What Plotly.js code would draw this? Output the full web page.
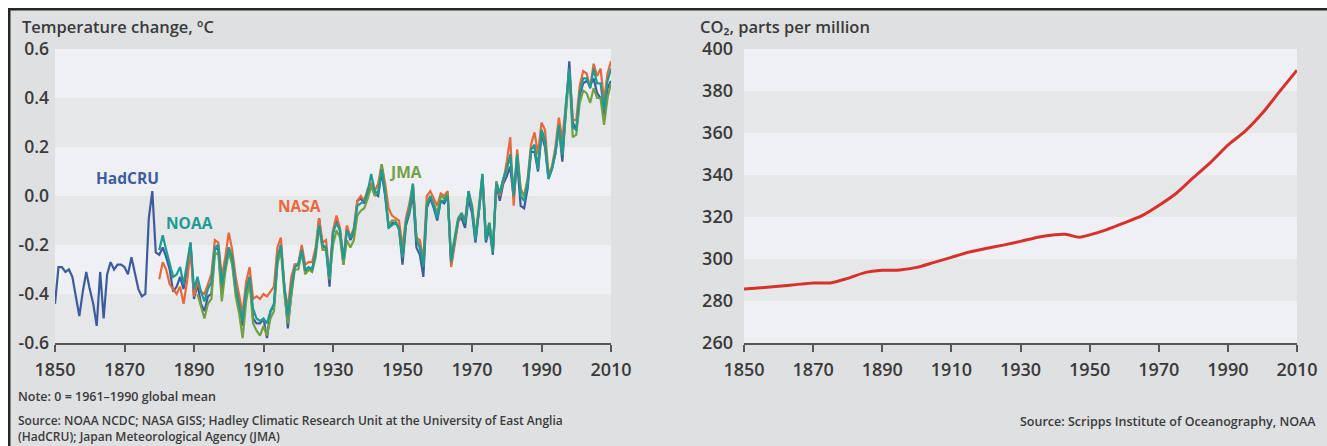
<!DOCTYPE html>
<html>
<head>
<meta charset="utf-8">
<script src="https://cdn.plot.ly/plotly-3.0.1.min.js"></script>
<style>html,body{margin:0;padding:0;background:#fff;}#chart{width:1327px;height:446px;}</style>
</head>
<body>
<div id="chart"></div>
<script>
// ---------------- DATA ----------------
const hadcruStart = 1850;
const hadcruValues = [
-0.44,-0.29,-0.29,-0.31,-0.30,-0.33,-0.41,-0.49,-0.39,-0.31,
-0.38,-0.44,-0.53,-0.31,-0.50,-0.32,-0.27,-0.30,-0.28,-0.28,
-0.29,-0.32,-0.25,-0.31,-0.38,-0.41,-0.40,-0.09,0.02,-0.23,
-0.24,-0.21,-0.25,-0.30,-0.39,-0.37,-0.33,-0.38,-0.30,-0.19,
-0.42,-0.36,-0.44,-0.47,-0.41,-0.40,-0.21,-0.22,-0.40,-0.29,
-0.21,-0.27,-0.39,-0.46,-0.53,-0.40,-0.33,-0.50,-0.52,-0.52,
-0.50,-0.58,-0.47,-0.45,-0.27,-0.20,-0.39,-0.54,-0.40,-0.28,
-0.28,-0.21,-0.31,-0.30,-0.30,-0.23,-0.09,-0.21,-0.21,-0.37,
-0.15,-0.10,-0.14,-0.28,-0.13,-0.18,-0.15,-0.02,-0.01,-0.03,
0.01,0.05,0.01,0.00,0.10,0.00,-0.13,-0.11,-0.11,-0.13,
-0.28,-0.12,-0.07,0.01,-0.21,-0.24,-0.33,-0.05,-0.01,-0.05,
-0.10,-0.02,-0.03,0.00,-0.28,-0.19,-0.10,-0.09,-0.13,-0.01,
-0.07,-0.19,-0.06,0.07,-0.19,-0.13,-0.24,0.05,-0.02,0.05,
0.08,0.12,-0.01,0.14,-0.04,-0.05,0.03,0.18,0.18,0.10,
0.25,0.20,0.07,0.11,0.17,0.28,0.14,0.35,0.55,0.30,
0.27,0.41,0.46,0.47,0.45,0.48,0.42,0.40,0.33,0.44,
0.47];

const noaaStart = 1880;
const noaaValues = [
-0.22,-0.16,-0.22,-0.28,-0.33,-0.32,-0.29,-0.36,-0.28,-0.19,
-0.38,-0.33,-0.39,-0.43,-0.38,-0.35,-0.21,-0.20,-0.36,-0.28,
-0.21,-0.25,-0.37,-0.44,-0.51,-0.38,-0.33,-0.46,-0.50,-0.51,
-0.50,-0.52,-0.47,-0.44,-0.25,-0.20,-0.37,-0.49,-0.37,-0.29,
-0.28,-0.22,-0.30,-0.29,-0.30,-0.23,-0.12,-0.20,-0.21,-0.33,
-0.15,-0.11,-0.14,-0.26,-0.14,-0.17,-0.14,-0.04,-0.03,-0.02,
0.02,0.09,0.02,0.01,0.11,0.01,-0.13,-0.12,-0.11,-0.13,
-0.25,-0.11,-0.05,0.05,-0.18,-0.21,-0.29,-0.04,0.00,-0.04,
-0.09,-0.02,-0.02,0.00,-0.27,-0.18,-0.10,-0.07,-0.11,0.02,
-0.05,-0.18,-0.06,0.09,-0.18,-0.11,-0.23,0.05,0.01,0.07,
0.11,0.17,0.00,0.17,0.00,-0.02,0.05,0.19,0.21,0.11,
0.27,0.23,0.07,0.11,0.18,0.29,0.17,0.37,0.52,0.28,
0.27,0.42,0.48,0.48,0.44,0.52,0.46,0.46,0.35,0.47,
0.52];

const nasaStart = 1880;
const nasaValues = [
-0.34,-0.27,-0.30,-0.36,-0.38,-0.40,-0.37,-0.44,-0.35,-0.22,
-0.41,-0.35,-0.39,-0.40,-0.36,-0.32,-0.18,-0.19,-0.33,-0.25,
-0.15,-0.22,-0.33,-0.41,-0.48,-0.35,-0.29,-0.42,-0.41,-0.42,
-0.40,-0.41,-0.39,-0.37,-0.21,-0.17,-0.37,-0.46,-0.33,-0.28,
-0.28,-0.20,-0.28,-0.27,-0.27,-0.21,-0.09,-0.19,-0.18,-0.33,
-0.14,-0.08,-0.13,-0.26,-0.12,-0.17,-0.13,-0.02,0.00,-0.02,
0.03,0.05,0.02,0.05,0.13,0.05,-0.05,-0.08,-0.09,-0.10,
-0.21,-0.09,-0.03,0.05,-0.17,-0.18,-0.26,0.00,0.02,-0.01,
-0.04,0.01,0.00,0.02,-0.29,-0.20,-0.11,-0.07,-0.10,0.01,
-0.04,-0.16,-0.06,0.08,-0.16,-0.11,-0.22,0.06,0.00,0.06,
0.14,0.24,-0.04,0.19,0.03,0.00,0.07,0.21,0.26,0.17,
0.30,0.27,0.09,0.12,0.20,0.32,0.23,0.37,0.51,0.31,
0.31,0.45,0.51,0.50,0.44,0.54,0.49,0.52,0.39,0.50,
0.55];

const jmaStart = 1891;
const jmaValues = [
-0.40,-0.45,-0.50,-0.44,-0.42,-0.24,-0.23,-0.43,-0.31,
-0.23,-0.28,-0.41,-0.48,-0.58,-0.43,-0.35,-0.52,-0.55,-0.57,
-0.53,-0.57,-0.50,-0.47,-0.28,-0.22,-0.40,-0.52,-0.41,-0.30,
-0.30,-0.23,-0.32,-0.30,-0.31,-0.25,-0.12,-0.22,-0.22,-0.34,
-0.20,-0.14,-0.17,-0.28,-0.18,-0.21,-0.18,-0.08,-0.06,-0.05,
-0.01,0.04,0.00,0.02,0.13,0.03,-0.12,-0.10,-0.10,-0.14,
-0.25,-0.10,-0.06,0.04,-0.17,-0.21,-0.28,-0.03,0.00,-0.03,
-0.07,0.00,-0.01,0.01,-0.25,-0.17,-0.09,-0.07,-0.11,0.02,
-0.04,-0.17,-0.05,0.09,-0.17,-0.11,-0.23,0.06,0.01,0.07,
0.11,0.16,0.02,0.17,0.02,0.00,0.06,0.19,0.20,0.12,
0.27,0.22,0.08,0.11,0.18,0.27,0.17,0.34,0.50,0.24,
0.25,0.38,0.43,0.42,0.38,0.44,0.40,0.40,0.29,0.40,
0.46];

const co2Years = [1850,1855,1860,1865,1870,1875,1880,1885,1890,1895,1900,1905,1910,1915,1920,1925,1930,1935,1940,1943,1947,1950,1955,1960,1965,1970,1975,1980,1985,1990,1995,2000,2005,2010];
const co2Values = [285.7,286.3,287.0,287.8,288.6,288.6,290.8,293.5,294.6,294.8,296.0,298.4,300.8,303.2,305.0,306.6,308.4,310.4,311.6,311.8,310.4,311.5,314.0,317.2,320.5,325.5,331.2,338.7,346.0,354.2,360.9,369.5,379.8,389.9];

const yearTicks = [1850,1870,1890,1910,1930,1950,1970,1990,2010];
const tempTicks = [-0.6,-0.4,-0.2,0.0,0.2,0.4,0.6];
const tempTickText = ["-0.6","-0.4","-0.2","0.0","0.2","0.4","0.6"];
const co2Ticks = [260,280,300,320,340,360,380,400];
const co2TickText = ["260","280","300","320","340","360","380","400"];

const seriesNames = ["HadCRU","NASA","JMA","NOAA"];
const seriesColors = {HadCRU:"#3d5c9c", NOAA:"#1e9b93", NASA:"#e8683b", JMA:"#72a044"};

// ---------------- BUILD ----------------
const W = 1327, H = 446;
const px = v => v / W;
const py = v => 1 - v / H;
const yrs = (start, arr) => arr.map((_, i) => start + i);

const seriesData = {
  HadCRU: [yrs(hadcruStart, hadcruValues), hadcruValues],
  NOAA: [yrs(noaaStart, noaaValues), noaaValues],
  NASA: [yrs(nasaStart, nasaValues), nasaValues],
  JMA: [yrs(jmaStart, jmaValues), jmaValues]
};

const traces = seriesNames.map(n => ({
  type: 'scatter', mode: 'lines', name: n,
  x: seriesData[n][0], y: seriesData[n][1],
  xaxis: 'x', yaxis: 'y',
  line: {color: seriesColors[n], width: 2.2},
  hoverinfo: 'skip'
}));
traces.push({
  type: 'scatter', mode: 'lines', name: 'CO2',
  x: co2Years, y: co2Values, xaxis: 'x2', yaxis: 'y2',
  line: {color: '#d7312b', width: 3, shape: 'spline', smoothing: 0.7},
  hoverinfo: 'skip'
});

const bandGray = '#e6e7e9';
const shapes = [];
function bands(ticks, xr, yr) {
  const desc = ticks.slice().sort((a, b) => b - a);
  for (let i = 0; i < desc.length - 1; i++) {
    if (i % 2 === 1) {
      shapes.push({type: 'rect', xref: xr, yref: yr, x0: yearTicks[0], x1: yearTicks[yearTicks.length - 1],
        y0: desc[i + 1], y1: desc[i], fillcolor: bandGray, line: {width: 0}, layer: 'below'});
    }
  }
}
bands(tempTicks, 'x', 'y');
bands(co2Ticks, 'x2', 'y2');

// outer frame
shapes.push({type: 'rect', xref: 'paper', yref: 'paper', x0: 0, x1: 1, y0: py(8), y1: 1, fillcolor: '#ffffff', line: {width: 0}, layer: 'above'});
shapes.push({type: 'rect', xref: 'paper', yref: 'paper', x0: 0, x1: px(8), y0: 0, y1: 1, fillcolor: '#ffffff', line: {width: 0}, layer: 'above'});
shapes.push({type: 'rect', xref: 'paper', yref: 'paper', x0: px(8), x1: 1, y0: py(10.5), y1: py(8), fillcolor: '#262626', line: {width: 0}, layer: 'above'});
shapes.push({type: 'rect', xref: 'paper', yref: 'paper', x0: px(8), x1: px(10.5), y0: 0, y1: py(8), fillcolor: '#262626', line: {width: 0}, layer: 'above'});

const txt = '#3a3a3a';
const fam = 'Open Sans, sans-serif';
const annotations = [
  {xref: 'paper', yref: 'paper', x: px(20), y: py(27), xanchor: 'left', yanchor: 'middle', showarrow: false,
   text: 'Temperature change, ºC', font: {family: fam, size: 16.5, weight: 600, color: txt}},
  {xref: 'paper', yref: 'paper', x: px(698), y: py(27), xanchor: 'left', yanchor: 'middle', showarrow: false,
   text: 'CO₂, parts per million', font: {family: fam, size: 16.5, weight: 600, color: txt}},
  {xref: 'paper', yref: 'paper', x: px(16), y: py(396), xanchor: 'left', yanchor: 'middle', showarrow: false,
   text: 'Note: 0 = 1961–1990 global mean', font: {family: fam, size: 12.5, weight: 600, color: txt}},
  {xref: 'paper', yref: 'paper', x: px(16), y: py(428), xanchor: 'left', yanchor: 'middle', align: 'left', showarrow: false,
   text: 'Source: NOAA NCDC; NASA GISS; Hadley Climatic Research Unit at the University of East Anglia<br>(HadCRU); Japan Meteorological Agency (JMA)', font: {family: fam, size: 12, weight: 600, color: txt}},
  {xref: 'paper', yref: 'paper', x: px(1318), y: py(421), xanchor: 'right', yanchor: 'middle', showarrow: false,
   text: 'Source: Scripps Institute of Oceanography, NOAA', font: {family: fam, size: 12.5, weight: 600, color: txt}},
  {xref: 'x', yref: 'y', x: 1871, y: 0.073, showarrow: false, text: 'HadCRU', font: {family: fam, size: 15.5, weight: 700, color: seriesColors.HadCRU}},
  {xref: 'x', yref: 'y', x: 1888.8, y: -0.11, showarrow: false, text: 'NOAA', font: {family: fam, size: 15.5, weight: 700, color: seriesColors.NOAA}},
  {xref: 'x', yref: 'y', x: 1920.5, y: -0.04, showarrow: false, text: 'NASA', font: {family: fam, size: 15.5, weight: 700, color: seriesColors.NASA}},
  {xref: 'x', yref: 'y', x: 1951, y: 0.10, showarrow: false, text: 'JMA', font: {family: fam, size: 15.5, weight: 700, color: seriesColors.JMA}}
];

const yDom = [(H - 343) / H, (H - 49) / H];
const xCommon = {
  range: [yearTicks[0], yearTicks[yearTicks.length - 1]], tickvals: yearTicks,
  showline: true, linecolor: '#565656', linewidth: 2, ticks: 'outside', ticklen: 7, tickwidth: 2, tickcolor: '#565656',
  showgrid: false, zeroline: false, tickfont: {family: fam, size: 18, weight: 600, color: txt}, ticklabelstandoff: 2, fixedrange: true
};
const yCommon = {showgrid: false, zeroline: false, showline: false, ticks: '', tickfont: {family: fam, size: 17.5, weight: 600, color: txt}, fixedrange: true, domain: yDom};

const layout = {
  width: W, height: H, margin: {l: 0, r: 0, t: 0, b: 0}, showlegend: false,
  paper_bgcolor: '#dfe0e2', plot_bgcolor: '#eef0f3',
  font: {family: fam, color: txt},
  xaxis: Object.assign({}, xCommon, {domain: [px(55), px(611)], anchor: 'y'}),
  yaxis: Object.assign({}, yCommon, {range: [tempTicks[0], tempTicks[tempTicks.length - 1]], tickvals: tempTicks, ticktext: tempTickText, anchor: 'x', ticklabelstandoff: 5}),
  xaxis2: Object.assign({}, xCommon, {domain: [px(744), px(1297)], anchor: 'y2'}),
  yaxis2: Object.assign({}, yCommon, {range: [co2Ticks[0], co2Ticks[co2Ticks.length - 1]], tickvals: co2Ticks, ticktext: co2TickText, anchor: 'x2', ticklabelstandoff: 10, tickfont: {family: fam, size: 18, weight: 600, color: txt}}),
  shapes: shapes, annotations: annotations
};

Plotly.newPlot('chart', traces, layout, {displayModeBar: false, staticPlot: true});
</script>
</body>
</html>
